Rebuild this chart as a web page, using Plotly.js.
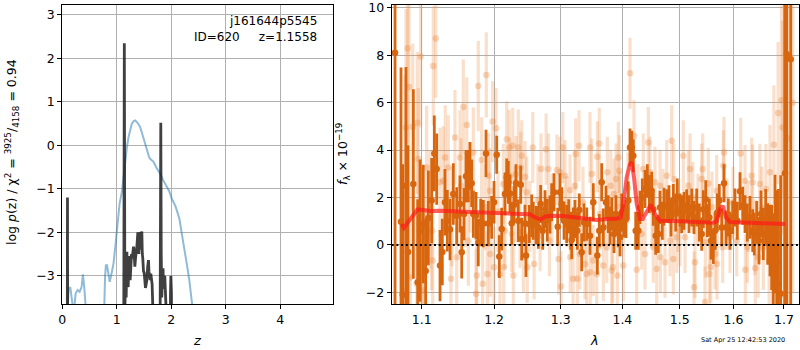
<!DOCTYPE html>
<html>
<head>
<meta charset="utf-8">
<script src="https://cdn.plot.ly/plotly-3.0.1.min.js"></script>
<style>html,body{margin:0;padding:0;background:#fff;}#plot{width:800px;height:350px;}</style>
</head>
<body>
<div id="plot"></div>
<script>
// ---------- left panel: log p(z) (black) and scaled chi2 (blue) ----------
const pzZ = [0.000,0.090,0.095,0.100,1.110,1.128,1.138,1.148,1.160,1.172,1.185,1.197,1.209,1.221,1.233,1.245,1.258,1.270,1.282,1.295,1.307,1.319,1.331,1.343,1.355,1.370,1.386,1.395,1.404,1.413,1.422,1.432,1.441,1.450,1.459,1.468,1.477,1.490,1.502,1.514,1.526,1.538,1.551,1.566,1.581,1.590,1.599,1.612,1.624,1.636,1.648,1.660,1.667,1.790,1.801,1.807,1.815,1.825,1.838,1.848,1.858,1.868,1.880,1.890,1.905,1.975,1.985,1.992,2.002,2.015,5.000];
const pzLog = [-6,-6,-1.20,-6,-6,-4.0,2.35,-3.8,-3.0,-3.5,-2.45,-3.2,-3.26,-2.6,-2.55,-3.1,-2.75,-2.5,-2.6,-2.4,-2.33,-2.5,-2.79,-2.6,-2.5,-2.3,-2.0,-2.45,-2.5,-2.1,-2.0,-2.3,-2.4,-2.05,-1.98,-2.5,-2.6,-2.9,-2.93,-3.1,-3.28,-3.2,-3.1,-2.8,-2.64,-2.9,-3.0,-3.1,-2.95,-3.1,-3.2,-3.7,-6,-6,-3.0,0.52,-2.5,-3.5,-3.0,-2.83,-3.3,-3.26,-3.0,-3.3,-4.0,-6,-3.4,-3.0,-3.4,-6,-6];

const chiZ = [0.060,0.085,0.116,0.146,0.177,0.208,0.244,0.281,0.317,0.354,0.378,0.403,0.439,0.500,0.700,0.760,0.785,0.800,0.820,0.845,0.870,0.895,0.940,0.975,1.001,1.032,1.050,1.093,1.125,1.154,1.185,1.215,1.245,1.276,1.310,1.337,1.380,1.429,1.470,1.510,1.551,1.590,1.612,1.640,1.673,1.730,1.795,1.850,1.917,1.960,2.009,2.040,2.070,2.100,2.150,2.192,2.240,2.283,2.330,2.375,2.420,2.600];
const chiVal = [-5,-4.0,-3.33,-3.26,-3.56,-3.9,-3.41,-3.33,-3.37,-3.26,-2.97,-3.26,-3.9,-5,-5,-4.2,-3.0,-2.76,-2.76,-3.0,-3.14,-3.0,-2.72,-2.3,-1.95,-1.49,-1.35,-1.07,-0.7,-0.345,-0.05,0.19,0.38,0.50,0.56,0.575,0.52,0.42,0.25,0.07,-0.115,-0.26,-0.31,-0.35,-0.38,-0.52,-0.65,-0.80,-0.96,-1.05,-1.23,-1.30,-1.38,-1.49,-1.70,-2.03,-2.35,-2.72,-3.1,-3.56,-4.0,-6];

// ---------- right panel: spectrum ----------
const darkLam = [
1.0653,1.0730,1.0752,1.0794,1.0820,1.0890,1.0947,1.0978,1.1021,1.1053,
1.1088,1.1133,1.1168,1.1200,1.1245,1.1276,1.1312,1.1344,1.1381,1.1426,
1.1473,1.1518,1.1542,1.1574,1.1602,1.1634,1.1657,1.1681,1.1704,1.1742,
1.1774,1.1808,1.1845,1.1884,1.1917,1.1965,1.1999,1.2038,1.2075,1.2110,
1.2158,1.2183,1.2207,1.2232,1.2257,1.2290,1.2320,1.2354,1.2390,1.2405,
1.2454,1.2469,1.2519,1.2555,1.2579,1.2620,1.2655,1.2691,1.2722,1.2757,
1.2792,1.2834,1.2860,1.2896,1.2953,1.2989,1.3016,1.3052,1.3094,1.3126,
1.3157,1.3173,1.3198,1.3225,1.3262,1.3294,1.3332,1.3369,1.3413,1.3466,
1.3519,1.3585,1.3617,1.3657,1.3683,1.3727,1.3765,1.3793,1.3822,1.3860,
1.3893,1.3932,1.3960,1.3989,1.4027,1.4061,1.4100,1.4129,1.4158,1.4185,
1.4226,1.4271,1.4300,1.4339,1.4386,1.4426,1.4461,1.4502,1.4530,1.4572,
1.4618,1.4648,1.4688,1.4718,1.4766,1.4807,1.4843,1.4884,1.4927,1.4955,
1.5004,1.5035,1.5076,1.5125,1.5167,1.5217,1.5259,1.5308,1.5356,1.5400,
1.5430,1.5475,1.5504,1.5542,1.5574,1.5617,1.5649,1.5692,1.5730,1.5775,
1.5819,1.5857,1.5901,1.5933,1.5985,1.6029,1.6074,1.6126,1.6178,1.6223,
1.6268,1.6321,1.6374,1.6405,1.6453,1.6498,1.6538,1.6584,1.6632,1.6672,
1.6718,1.6752,1.6784,1.6819,1.6853,1.6886,1.6934,1.7022,1.7057,1.7139];
const darkFlux = [
8.10,0.98,-2.10,2.50,-0.30,2.57,-1.57,0.60,0.88,-1.10,
1.14,1.87,3.86,3.20,-0.87,-0.30,1.80,1.02,0.65,2.15,
1.23,1.73,-0.31,1.30,2.90,2.90,3.34,2.60,1.30,1.23,
0.10,0.95,0.90,3.86,0.90,1.16,1.80,3.80,-0.49,0.67,
2.15,2.85,2.64,2.17,0.91,1.70,2.60,1.02,2.54,0.25,
0.90,-0.45,0.88,1.23,1.02,0.84,0.74,1.73,0.60,1.51,
1.05,1.28,1.80,2.22,0.77,2.22,1.73,1.02,0.88,1.23,
0.60,0.21,0.88,1.09,0.60,1.47,-0.31,0.95,0.88,0.39,
1.80,-0.45,0.60,2.64,0.74,1.80,1.30,0.81,1.30,0.46,
1.30,0.60,0.32,1.37,1.02,1.09,1.87,4.11,4.11,3.76,
0.60,0.60,1.58,2.00,2.36,2.70,2.15,2.29,1.51,0.39,
0.46,1.58,1.02,1.61,1.65,1.72,1.16,1.87,1.37,2.00,
1.47,1.30,1.44,1.65,1.30,1.58,1.16,1.58,0.95,0.46,
1.51,1.93,1.02,1.16,0.18,-0.10,0.60,1.37,1.87,0.74,
2.60,0.74,1.16,0.60,1.16,1.58,1.02,2.26,1.65,1.30,
0.95,1.16,0.60,0.46,0.95,0.18,1.30,0.46,1.16,0.46,
0.18,-0.10,-0.66,0.46,-0.69,-1.64,-2.06,3.02,8.04,7.83];
const darkErr = [
12,6.5,5.5,5.0,4.5,4.0,3.5,3.0,2.5,2.2,
2.0,1.8,1.6,1.5,1.5,1.4,1.4,1.3,1.3,1.3,
1.2,1.2,1.1,1.1,1.1,1.1,1.0,1.0,1.0,1.0,
1.0,1.0,1.0,1.0,0.95,0.9,0.9,0.8,0.9,0.9,
0.9,0.8,0.9,0.8,0.9,0.8,0.8,0.9,0.8,0.9,
0.8,0.9,0.8,0.9,0.8,0.8,0.9,0.8,0.8,0.8,
0.9,0.8,0.8,0.8,0.8,0.8,0.7,0.8,0.8,0.7,
0.8,0.8,0.7,0.8,0.8,0.7,0.8,0.8,0.7,0.8,
0.8,0.8,0.7,0.8,0.8,0.7,0.8,0.8,0.7,0.8,
0.8,0.7,0.8,0.8,0.7,0.8,0.8,0.8,0.7,0.7,
0.8,0.8,0.7,0.8,0.8,0.7,0.8,0.8,0.7,0.8,
0.8,0.7,0.8,0.8,0.7,0.8,0.8,0.7,0.8,0.8,
0.7,0.8,0.8,0.7,0.8,0.8,0.7,0.8,0.8,0.7,
0.8,0.8,0.7,0.8,0.8,0.7,0.8,0.8,0.7,0.8,
0.8,0.7,0.8,0.8,0.7,0.8,0.8,0.8,0.8,0.8,
0.8,0.9,0.9,0.9,0.9,1.0,1.0,1.1,1.2,1.3,
1.5,1.8,2.0,2.5,3.0,4.0,5.0,8.0,12,12];

const lightLam = [
1.0760,1.0781,1.0794,1.0816,1.0833,1.0850,1.0882,1.0942,1.0936,1.0955,
1.0987,1.1000,1.1021,1.1044,1.1066,1.1110,1.1133,1.1146,1.1154,1.1187,
1.1245,1.1289,1.1316,1.1357,1.1394,1.1408,1.1449,1.1473,1.1518,1.1532,
1.1564,1.1588,1.1612,1.1634,1.1657,1.1704,1.1742,1.1752,1.1774,1.1822,
1.1836,1.1870,1.1888,1.1903,1.1917,1.1941,1.1945,1.1979,1.1999,1.2028,
1.2056,1.2085,1.2133,1.2140,1.2158,1.2183,1.2221,1.2228,1.2257,1.2272,
1.2280,1.2305,1.2320,1.2354,1.2380,1.2390,1.2405,1.2429,1.2454,1.2480,
1.2487,1.2529,1.2571,1.2591,1.2650,1.2682,1.2697,1.2774,1.2810,1.2825,
1.2865,1.2941,1.2966,1.2989,1.3005,1.3032,1.3068,1.3099,1.3147,1.3150,
1.3195,1.3225,1.3236,1.3262,1.3289,1.3305,1.3353,1.3385,1.3413,1.3466,
1.3470,1.3494,1.3519,1.3575,1.3585,1.3617,1.3628,1.3683,1.3739,1.3749,
1.3806,1.3822,1.3839,1.3860,1.3893,1.3915,1.3932,1.3949,1.3960,1.4016,
1.4095,1.4129,1.4197,1.4243,1.4265,1.4329,1.4356,1.4386,1.4444,1.4473,
1.4508,1.4530,1.4560,1.4590,1.4648,1.4655,1.4701,1.4736,1.4766,1.4825,
1.4855,1.4884,1.4890,1.4946,1.4969,1.5004,1.5064,1.5095,1.5156,1.5187,
1.5236,1.5259,1.5277,1.5331,1.5400,1.5419,1.5461,1.5468,1.5523,1.5542,
1.5568,1.5592,1.5649,1.5681,1.5688,1.5794,1.5806,1.5819,1.5876,1.5933,
1.5991,1.6062,1.6140,1.6223,1.6230,1.6268,1.6282,1.6353,1.6372,1.6417,
1.6424,1.6482,1.6515,1.6557,1.6584,1.6636,1.6701,1.6718,1.6770,1.6796,
1.6862,1.6882,1.6917,1.6951,1.6972,1.7080,1.7180];
const lightFlux = [
-1.92,2.15,4.95,8.29,6.66,-1.36,4.98,5.15,-1.64,3.62,
7.95,-1.29,-1.92,-1.08,3.27,1.50,0.60,-0.66,7.55,8.71,
2.64,2.71,3.69,3.27,-1.43,1.20,4.53,-0.52,3.69,2.50,
5.82,1.90,5.06,0.18,2.43,3.90,-2.06,-1.29,6.70,3.58,
-1.64,1.60,7.17,-1.22,2.92,2.29,-0.38,5.20,-0.94,4.92,
1.40,-1.22,2.57,-0.94,0.60,4.46,4.11,2.92,0.46,4.18,
-1.29,1.70,2.99,4.11,0.53,3.27,3.76,-0.52,2.88,2.22,
-0.94,1.20,4.11,-0.80,1.90,0.39,3.20,4.04,3.20,0.18,
1.50,3.16,-0.59,3.06,-1.75,4.11,2.92,1.40,2.31,-0.52,
-1.43,2.50,3.83,-1.43,4.18,-0.38,1.80,-0.80,-1.22,4.11,
-1.15,2.99,-0.66,-1.22,3.72,4.28,1.30,-0.87,-0.10,3.06,
2.50,-1.08,-0.94,2.15,2.78,-1.29,3.69,3.13,1.60,-0.87,
2.40,7.24,4.60,-1.05,1.90,0.46,3.20,-0.38,4.32,3.06,
1.40,-0.10,2.64,-1.01,2.50,-0.52,1.70,-0.73,2.92,0.18,
4.39,-0.59,2.78,0.32,1.20,0.60,3.76,0.32,2.50,3.20,
2.01,-1.78,-0.73,1.50,2.78,3.20,-2.41,0.11,2.59,-1.22,
-0.94,1.60,-0.38,2.29,-0.80,-0.10,3.34,3.90,1.30,0.32,
1.80,0.18,3.86,2.71,-1.05,-0.10,1.20,2.92,2.64,0.32,
-0.98,-0.52,2.57,1.50,-0.10,2.36,-0.66,3.06,-0.94,4.22,
-1.64,5.56,-1.99,6.10,4.95,4.50,6.00];
const lightErr = [
4.5,5.0,5.0,4.0,4.0,4.0,3.5,3.0,3.0,3.0,
3.0,2.8,2.8,2.6,2.6,2.5,2.5,2.5,2.5,2.5,
2.3,2.3,2.2,2.2,2.1,2.1,2.0,2.0,2.0,2.0,
2.0,2.0,2.0,1.9,1.9,1.9,1.9,1.9,1.9,1.8,
1.8,1.8,1.8,1.8,1.8,1.8,1.8,1.7,1.7,1.7,
1.7,1.7,1.7,1.7,1.6,1.6,1.6,1.6,1.6,1.6,
1.6,1.6,1.6,1.6,1.5,1.5,1.5,1.5,1.5,1.5,
1.5,1.5,1.5,1.5,1.5,1.5,1.5,1.5,1.5,1.5,
1.5,1.5,1.5,1.5,1.5,1.5,1.5,1.5,1.5,1.5,
1.5,1.5,1.5,1.5,1.5,1.5,1.5,1.5,1.5,1.5,
1.5,1.5,1.5,1.5,1.5,1.5,1.5,1.5,1.5,1.5,
1.5,1.5,1.5,1.5,1.5,1.5,1.5,1.5,1.5,1.5,
1.5,1.5,1.5,1.5,1.5,1.5,1.5,1.5,1.5,1.5,
1.5,1.5,1.5,1.5,1.5,1.5,1.5,1.5,1.5,1.5,
1.5,1.5,1.5,1.5,1.5,1.5,1.5,1.5,1.5,1.5,
1.5,1.5,1.5,1.5,1.5,1.5,1.5,1.5,1.5,1.5,
1.5,1.5,1.5,1.5,1.5,1.5,1.5,1.5,1.5,1.5,
1.5,1.5,1.5,1.5,1.5,1.5,1.5,1.6,1.6,1.6,
1.6,1.7,1.7,1.8,1.8,1.9,2.0,2.0,2.3,2.5,
2.8,3.0,3.5,4.0,4.5,8.0,8.0];

const modelLam = [1.0739,1.0768,1.0820,1.0890,1.0942,1.1021,1.1110,1.1245,1.1564,1.1798,1.2038,1.2280,1.2529,1.2579,1.2655,1.2691,1.2757,1.2834,1.3041,1.3305,1.3575,1.3739,1.3905,1.3972,1.4016,1.4073,1.4129,1.4158,1.4197,1.4243,1.4300,1.4346,1.4415,1.4485,1.4560,1.4648,1.5004,1.5308,1.5617,1.5681,1.5743,1.5794,1.5857,1.5933,1.6256,1.6584,1.7022];
const modelFlux = [0.88,0.72,0.95,1.30,1.49,1.47,1.43,1.44,1.42,1.37,1.35,1.32,1.29,1.20,1.08,1.07,1.19,1.23,1.22,1.14,1.05,1.09,1.10,1.16,1.73,2.85,3.41,3.48,2.85,1.73,1.09,1.09,1.44,1.70,1.30,1.02,1.00,0.97,0.94,1.00,1.51,1.65,1.16,0.97,0.96,0.91,0.88];

const zTicks = [0,1,2,3,4];
const pzTicks = [-3,-2,-1,0,1,2,3];
const lamTicks = [1.1,1.2,1.3,1.4,1.5,1.6,1.7];
const lamTickText = ['1.1','1.2','1.3','1.4','1.5','1.6','1.7'];
const fluxTicks = [-2,0,2,4,6,8,10];
const fluxTickText = ['\u22122','0','2','4','6','8','10'];

const FONT = 'DejaVu Sans, Liberation Sans, sans-serif';
const darkC = '#d8660f';

const traces = [
  {x: chiZ, y: chiVal, xaxis:'x', yaxis:'y', mode:'lines', line:{color:'rgba(31,119,180,0.5)', width:2}, hoverinfo:'skip'},
  {x: pzZ, y: pzLog, xaxis:'x', yaxis:'y', mode:'lines', line:{color:'rgba(30,30,30,0.85)', width:2.8}, hoverinfo:'skip'},
  {x: lightLam, y: lightFlux, xaxis:'x2', yaxis:'y2', mode:'markers',
   marker:{color:'rgba(232,125,45,0.3)', size:6.5},
   error_y:{type:'data', array: lightErr, visible:true, color:'rgba(236,140,70,0.28)', thickness:3.2, width:0}, hoverinfo:'skip'},
  {x: darkLam, y: darkFlux, xaxis:'x2', yaxis:'y2', mode:'markers',
   marker:{color:darkC, size:6.5},
   error_y:{type:'data', array: darkErr, visible:true, color:darkC, thickness:2.8, width:0}, hoverinfo:'skip'},
  {x: modelLam, y: modelFlux, xaxis:'x2', yaxis:'y2', mode:'lines', line:{color:'rgba(255,25,25,0.7)', width:4}, hoverinfo:'skip'}
];

function ax(extra){
  return Object.assign({
    showline:true, mirror:true, linecolor:'#000', linewidth:1,
    ticks:'outside', ticklen:4, tickwidth:1, tickcolor:'#000',
    showgrid:true, gridcolor:'#b0b0b0', gridwidth:1, zeroline:false,
    tickfont:{family:FONT, size:12.5, color:'#000'}
  }, extra);
}

const W = 800, H = 350;
function px(x){return x/W;}
function py(y){return 1 - y/H;}

const layout = {
  width:W, height:H, margin:{l:0,r:0,t:0,b:0},
  paper_bgcolor:'#fff', plot_bgcolor:'#fff', showlegend:false,
  font:{family:FONT, size:12.5, color:'#000'},
  xaxis: ax({domain:[62.3/W, 333.3/W], range:[0,4.972], tickvals:zTicks, anchor:'y'}),
  yaxis: ax({domain:[1-304/H, 1-4.7/H], range:[-3.65,3.236], tickvals:pzTicks, anchor:'x'}),
  xaxis2: ax({domain:[391.7/W, 799.3/W], type:'log', range:[0.025736,0.238469], tickvals:lamTicks, ticktext:lamTickText, anchor:'y2'}),
  yaxis2: ax({domain:[1-304/H, 1-4.7/H], range:[-2.49,10.13], tickvals:fluxTicks, ticktext:fluxTickText, anchor:'x2'}),
  shapes:[
    {type:'line', xref:'x2 domain', x0:0, x1:1, yref:'y2', y0:0, y1:0, layer:'above',
     line:{color:'#000', width:2, dash:'2px,2.7px'}}
  ],
  annotations:[
    {xref:'paper', yref:'paper', x:px(318.5), y:py(21), xanchor:'right', yanchor:'middle', showarrow:false,
     text:'j161644p5545', font:{family:FONT, size:12, color:'#000'}},
    {xref:'paper', yref:'paper', x:px(318.5), y:py(37), xanchor:'right', yanchor:'middle', showarrow:false,
     text:'ID=620\u00a0\u00a0\u00a0\u00a0\u00a0z=1.1558', font:{family:FONT, size:12, color:'#000'}},
    {xref:'paper', yref:'paper', x:px(12), y:py(152), xanchor:'center', yanchor:'middle', showarrow:false, textangle:-90,
     text:'log <i>p</i>(z) / χ<sup>2</sup> = <sup>3925</sup>/<sub>4158</sub> = 0.94', font:{family:FONT, size:12.5, color:'#000'}},
    {xref:'paper', yref:'paper', x:px(197), y:py(340), xanchor:'center', yanchor:'middle', showarrow:false,
     text:'<i>z</i>', font:{family:FONT, size:13, color:'#000'}},
    {xref:'paper', yref:'paper', x:px(343), y:py(154), xanchor:'center', yanchor:'middle', showarrow:false, textangle:-90,
     text:'<i>f</i><sub>λ</sub> × 10<sup>−19</sup>', font:{family:FONT, size:12.5, color:'#000'}},
    {xref:'paper', yref:'paper', x:px(594.5), y:py(340), xanchor:'center', yanchor:'middle', showarrow:false,
     text:'<i>λ</i>', font:{family:FONT, size:13, color:'#000'}},
    {xref:'paper', yref:'paper', x:px(742.5), y:py(339.5), xanchor:'center', yanchor:'middle', showarrow:false,
     text:'Sat Apr 25 12:42:53 2020', font:{family:FONT, size:6.5, color:'#000'}}
  ]
};

Plotly.newPlot('plot', traces, layout, {staticPlot:true, displayModeBar:false});
</script>
</body>
</html>
